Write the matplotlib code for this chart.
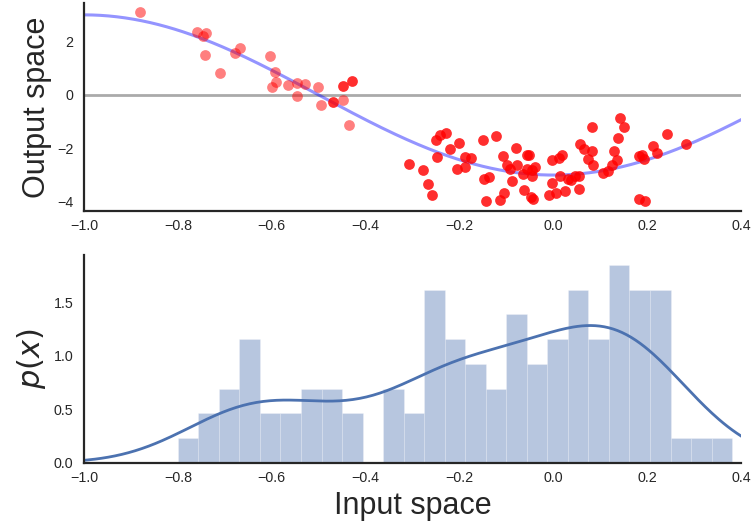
import numpy as np
import matplotlib
matplotlib.use("Agg")
import matplotlib.pyplot as plt

# ---- data -------------------------------------------------------------
# noisy observations, first (lighter) group
obs_a_x = [-0.881, -0.760, -0.741, -0.746, -0.743, -0.710, -0.678, -0.667,
           -0.604, -0.592, -0.600, -0.590, -0.566, -0.546, -0.546, -0.529,
           -0.502, -0.495, -0.449, -0.435]
obs_a_y = [3.09, 2.36, 2.33, 2.22, 1.50, 0.81, 1.56, 1.75,
           1.47, 0.87, 0.30, 0.47, 0.39, 0.43, -0.05, 0.41,
           0.29, -0.38, -0.17, -1.14]

# noisy observations, second (darker) group
obs_b_x = [-0.469, -0.449, -0.428,
           -0.307, -0.278, -0.268, -0.259, -0.250, -0.242, -0.229, -0.247,
           -0.220, -0.202, -0.205, -0.189, -0.189, -0.175, -0.150, -0.123,
           -0.108, -0.099, -0.147, -0.137, -0.144, -0.114, -0.104, -0.087,
           -0.080, -0.092, -0.077, -0.057, -0.051, -0.065, -0.055, -0.046,
           -0.040, -0.045, -0.062, -0.047, -0.044, -0.003, 0.012, 0.018,
           -0.003, -0.009, 0.005, 0.014, 0.025, 0.032, 0.038, 0.046,
           0.055, 0.055, 0.057, 0.066, 0.073, 0.082, 0.085, 0.083,
           0.105, 0.117, 0.126, 0.136, 0.130, 0.137, 0.142, 0.151,
           0.183, 0.188, 0.193, 0.212, 0.222, 0.243, 0.283, 0.183, 0.195]
obs_b_y = [-0.26, 0.34, 0.51,
           -2.60, -2.82, -3.32, -3.73, -1.67, -1.51, -1.41, -2.33,
           -2.03, -1.81, -2.76, -2.69, -2.34, -2.36, -1.69, -1.55,
           -2.30, -2.61, -3.14, -3.08, -3.98, -3.93, -3.68, -3.23,
           -1.98, -2.79, -2.64, -2.26, -2.23, -2.95, -2.76, -2.80,
           -2.70, -3.04, -3.55, -3.84, -3.90, -2.45, -2.35, -2.24,
           -3.30, -3.73, -3.68, -3.04, -3.61, -3.14, -3.20, -3.04,
           -3.05, -3.53, -1.85, -2.04, -2.41, -2.11, -2.64, -1.21,
           -2.94, -2.86, -2.64, -2.45, -2.08, -1.60, -0.85, -1.20,
           -2.29, -2.26, -2.41, -1.92, -2.18, -1.45, -1.82, -3.89, -3.98]

# amplitude of the underlying mapping y = -A cos(pi x)
amplitude = 3.0

# samples in input space
input_samples = [
    -0.800,
    -0.748, -0.730,
    -0.705, -0.690, -0.678,
    -0.665, -0.660, -0.652, -0.641, -0.633,
    -0.612, -0.597,
    -0.570, -0.553,
    -0.531, -0.517, -0.502,
    -0.488, -0.474, -0.460,
    -0.441, -0.420,
    -0.355, -0.341, -0.327,
    -0.308, -0.290,
    -0.272, -0.266, -0.259, -0.252, -0.246, -0.239, -0.233,
    -0.226, -0.218, -0.210, -0.201, -0.193,
    -0.182, -0.170, -0.160, -0.149,
    -0.139, -0.124, -0.108,
    -0.097, -0.090, -0.082, -0.075, -0.068, -0.061,
    -0.052, -0.041, -0.030, -0.019,
    -0.009, 0.000, 0.009, 0.018, 0.026,
    0.034, 0.040, 0.046, 0.052, 0.058, 0.064, 0.070,
    0.079, 0.087, 0.096, 0.104, 0.113,
    0.122, 0.127, 0.132, 0.137, 0.142, 0.147, 0.152, 0.157,
    0.166, 0.171, 0.177, 0.183, 0.189, 0.195, 0.201,
    0.210, 0.215, 0.221, 0.227, 0.233, 0.239, 0.245,
    0.272,
    0.315,
    0.381,
]
n_bins = 27

x_ticks = [-1.0, -0.8, -0.6, -0.4, -0.2, 0.0, 0.2, 0.4]
out_ticks = [-4, -2, 0, 2]
dens_ticks = [0.0, 0.5, 1.0, 1.5]

# ---- style ------------------------------------------------------------
text_color = "#262626"
plt.rcParams.update({
    "font.family": ["Liberation Sans", "DejaVu Sans"],
    "axes.edgecolor": text_color,
    "axes.linewidth": 1.6,
    "xtick.color": text_color,
    "ytick.color": text_color,
    "axes.labelcolor": text_color,
    "xtick.major.size": 0,
    "ytick.major.size": 0,
    "xtick.labelsize": 10.3,
    "ytick.labelsize": 10.3,
    "xtick.major.pad": 6,
    "ytick.major.pad": 7.5,
})

fig = plt.figure(figsize=(7.54, 5.30), dpi=100)
ax_top = fig.add_axes([0.1114, 0.6025, 0.8714, 0.3918])
ax_bot = fig.add_axes([0.1114, 0.1270, 0.8714, 0.3919])

hist_color = "#4C72B0"

# ---- output space -----------------------------------------------------
grid = np.linspace(-1.0, 0.4, 400)
ax_top.axhline(0, color="#aaaaaa", lw=2, zorder=1)
ax_top.plot(grid, -amplitude * np.cos(np.pi * grid), color="blue",
            alpha=0.42, lw=2.2, zorder=2)
ax_top.scatter(obs_a_x, obs_a_y, s=60, color="red", alpha=0.5,
               linewidths=0, zorder=3)
ax_top.scatter(obs_b_x, obs_b_y, s=60, color="red", alpha=0.82,
               linewidths=0, zorder=3)
ax_top.set_xlim(-1.0, 0.4)
ax_top.set_xticks(x_ticks)
ax_top.set_yticks(out_ticks)
ax_top.set_ylabel("Output space", fontsize=22)

# ---- input space density ----------------------------------------------
samples = np.asarray(input_samples)
ax_bot.hist(samples, bins=n_bins, density=True, color=hist_color,
            alpha=0.4, edgecolor="white", linewidth=0.4)

# Gaussian kernel density estimate (Scott's rule)
bw = samples.std(ddof=1) * len(samples) ** (-1 / 5)
kde_x = np.linspace(samples.min() - 3 * bw, samples.max() + 3 * bw, 400)
kde_y = np.exp(-0.5 * ((kde_x[:, None] - samples[None, :]) / bw) ** 2).sum(1)
kde_y /= len(samples) * bw * np.sqrt(2 * np.pi)
ax_bot.plot(kde_x, kde_y, color=hist_color, lw=2)

ax_bot.set_xlim(-1.0, 0.4)
ax_bot.set_ylim(bottom=0)
ax_bot.set_xticks(x_ticks)
ax_bot.set_yticks(dens_ticks)
ax_bot.set_ylabel(r"$p(x)$", fontsize=22)
ax_bot.set_xlabel("Input space", fontsize=22)

for ax in (ax_top, ax_bot):
    ax.spines["top"].set_visible(False)
    ax.spines["right"].set_visible(False)

fig.savefig("out.png", dpi=100)
